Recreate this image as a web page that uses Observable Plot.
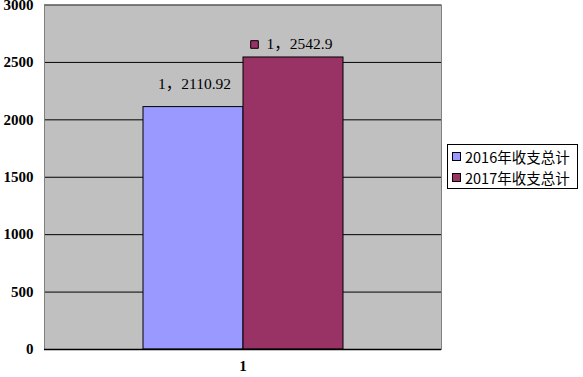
<!DOCTYPE html>
<html>
<head>
<meta charset="utf-8">
<script src="https://cdn.jsdelivr.net/npm/d3@7"></script>
<script src="https://cdn.jsdelivr.net/npm/@observablehq/plot@0.6"></script>
<style>
  html, body { margin: 0; padding: 0; background: #fff; }
  #wrap { position: relative; width: 583px; height: 377px; overflow: hidden; }
  #wrap svg { overflow: visible; }
  .legend { position: absolute; left: 447px; top: 144px; width: 131px; height: 45px;
    border: 1px solid #000; background: #fff; box-sizing: border-box;
    font-family: "Noto Sans CJK SC", sans-serif; font-size: 14.5px; color: #000; }
  .legend .item { position: absolute; left: 4px; display: flex; align-items: center; white-space: nowrap; }
  .legend .sw { width: 7px; height: 7px; border: 1px solid #000; margin-right: 4px; }
</style>
</head>
<body>
<div id="wrap"></div>
<script>
const category = "1";
const seriesNames = ["2016年收支总计", "2017年收支总计"];
const values = [2110.92, 2542.9];
const colors = ["#9999FF", "#993366"];
const yTicks = [0, 500, 1000, 1500, 2000, 2500, 3000];

const data = seriesNames.map((s, i) => ({series: s, value: values[i], label: `${category}，${values[i]}`}));

const labelFont = {fontFamily: "'Liberation Serif', 'Noto Sans CJK SC', serif", fontSize: 15.5};

const chart = Plot.plot({
  width: 583,
  height: 377,
  marginLeft: 44,
  marginRight: 142,
  marginTop: 4.5,
  marginBottom: 28,
  style: {background: "transparent", overflow: "visible"},
  x: {domain: seriesNames, paddingInner: 0, paddingOuter: 0.985, axis: null},
  y: {domain: [0, 3000], axis: null},
  color: {domain: seriesNames, range: colors},
  marks: [
    Plot.frame({fill: "#C0C0C0", stroke: null}),
    Plot.ruleY(yTicks, {stroke: "#000", strokeWidth: 1}),
    Plot.barY(data, {x: "series", y: "value", fill: "series", stroke: "#000", strokeWidth: 1}),
    Plot.frame({stroke: "#808080", strokeWidth: 1}),
    Plot.ruleX([0], {frameAnchor: "left", stroke: "#000", strokeWidth: 1.5}),
    Plot.ruleY([0], {stroke: "#000", strokeWidth: 1.5}),
    Plot.axisY({ticks: yTicks, tickSize: 0, tickPadding: 11, anchor: "left", label: null,
      tickFormat: d3.format("d"),
      fontFamily: "'Liberation Serif', serif", fontWeight: "bold", fontSize: 15, fill: "#000"}),
    Plot.text([category], {frameAnchor: "bottom", dy: 21, text: d => d,
      fontFamily: "'Liberation Serif', serif", fontWeight: "bold", fontSize: 15, fill: "#000"}),
    Plot.text(data.slice(0, 1), {x: "series", y: "value", text: "label", dy: -23, dx: 1, fill: "#000", ...labelFont}),
    Plot.text(data.slice(1, 2), {x: "series", y: "value", text: "label", dy: -13, dx: 6, fill: "#000", ...labelFont}),
    Plot.dot(data.slice(1, 2), {x: "series", y: "value", symbol: "square", r: 4.3, dx: -39, dy: -13,
      fill: "series", stroke: "#000", strokeWidth: 1})
  ]
});
const wrap = document.getElementById("wrap");
wrap.appendChild(chart);

const legend = document.createElement("div");
legend.className = "legend";
seriesNames.forEach((s, i) => {
  const it = document.createElement("div");
  it.className = "item";
  it.style.top = (i === 0 ? 1 : 22) + "px";
  const sw = document.createElement("span");
  sw.className = "sw";
  sw.style.background = colors[i];
  const t = document.createElement("span");
  t.textContent = s;
  it.appendChild(sw); it.appendChild(t);
  legend.appendChild(it);
});
wrap.appendChild(legend);
</script>
</body>
</html>
